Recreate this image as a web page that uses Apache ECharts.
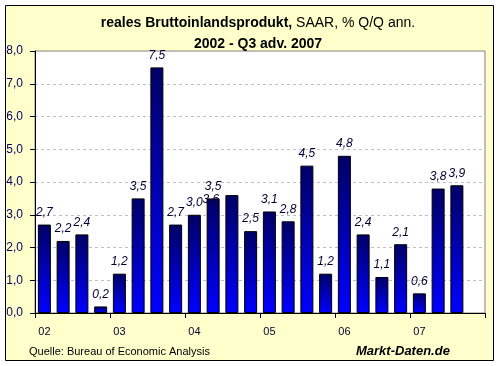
<!DOCTYPE html>
<html>
<head>
<meta charset="utf-8">
<script src="https://cdn.jsdelivr.net/npm/echarts@6/dist/echarts.min.js"></script>
<style>
html,body{margin:0;padding:0;background:#fff;}
#c{width:500px;height:366px;}
</style>
</head>
<body>
<div id="c"></div>
<script>
// Quarters 2002 Q1 .. 2007 Q4 (last slot empty)
var categories = ['02Q1','02Q2','02Q3','02Q4','03Q1','03Q2','03Q3','03Q4','04Q1','04Q2','04Q3','04Q4',
                  '05Q1','05Q2','05Q3','05Q4','06Q1','06Q2','06Q3','06Q4','07Q1','07Q2','07Q3','07Q4'];
var gdpGrowth = [2.7, 2.2, 2.4, 0.2, 1.2, 3.5, 7.5, 2.7, 3.0, 3.5, 3.6, 2.5,
                 3.1, 2.8, 4.5, 1.2, 4.8, 2.4, 1.1, 2.1, 0.6, 3.8, 3.9, null];
var yearLabels = ['02','03','04','05','06','07'];
var yTicks = [0,1,2,3,4,5,6,7,8];

var chart = echarts.init(document.getElementById('c'), null, {renderer:'canvas'});

function fmt(v){ return v.toFixed(1).replace('.', ','); }

var barData = gdpGrowth.map(function(v, i){
  var item = {value: v};
  if (i === 10) { // misplaced label in the original
    item.label = {offset: [-21, 17]};
  }
  return item;
});

var FF = 'Arial, "Liberation Sans", sans-serif';

var option = {
  animation: false,
  backgroundColor: 'transparent',
  graphic: [
    {type:'rect', z:-100, shape:{x:5.5, y:5.5, width:488, height:355},
     style:{fill:'#FFFFCC', stroke:'#000', lineWidth:1}},
    {type:'text', z:10, left:29, top:346,
     style:{text:'Quelle: Bureau of Economic Analysis', font:'11px ' + FF, fill:'#000'}},
    {type:'text', z:10, left:356, top:345,
     style:{text:'Markt-Daten.de', font:'italic bold 13px ' + FF, fill:'#000'}}
  ],
  title: {
    left: 253, top: 8, textAlign: 'center',
    text: '{b|reales Bruttoinlandsprodukt,}{n| SAAR, % Q/Q ann.}\n{b|2002 - Q3 adv. 2007}',
    textStyle: {
      fontFamily: FF,
      lineHeight: 21,
      rich: {
        b: {fontWeight:'bold', fontSize:14, color:'#000', lineHeight:21, fontFamily:FF},
        n: {fontWeight:'normal', fontSize:14, color:'#000', lineHeight:21, fontFamily:FF}
      }
    }
  },
  grid: {
    left: 35, right: 15, top: 51, bottom: 53,
    show: true, backgroundColor: '#FFFFFF', borderColor: '#808080', borderWidth: 1
  },
  xAxis: {
    type: 'category',
    data: categories,
    boundaryGap: true,
    axisLine: {lineStyle: {color:'#000', width:1}},
    axisTick: {show:true, interval:3, length:5, lineStyle:{color:'#000'}},
    axisLabel: {
      interval: 3, margin: 13,
      fontFamily: FF, fontSize: 11, color: '#000033',
      formatter: function(v, i){ return yearLabels[Math.floor(i/4)] || ''; }
    },
    splitLine: {show:false}
  },
  yAxis: {
    type: 'value',
    min: yTicks[0], max: yTicks[yTicks.length-1], interval: 1,
    axisLine: {show:true, lineStyle:{color:'#000', width:1}},
    axisTick: {show:true, length:5, lineStyle:{color:'#000'}},
    axisLabel: {
      margin: 12,
      fontFamily: FF, fontSize: 12, color: '#000066',
      formatter: function(v){ return fmt(v); }
    },
    splitLine: {show:true, lineStyle:{color:'#C0C0C0', type:[3,3], width:1}}
  },
  series: [{
    type: 'bar',
    data: barData,
    barWidth: 13,
    itemStyle: {
      borderColor: '#000', borderWidth: 1,
      color: new echarts.graphic.LinearGradient(0,0,0,1,[
        {offset:0, color:'#000066'},
        {offset:1, color:'#0000FF'}
      ])
    },
    label: {
      show: true, position: 'top', distance: 6,
      fontFamily: FF, fontSize: 12, fontStyle: 'italic',
      color: '#000033',
      formatter: function(p){ return p.value == null ? '' : fmt(p.value); }
    }
  }]
};
chart.setOption(option);
</script>
</body>
</html>
